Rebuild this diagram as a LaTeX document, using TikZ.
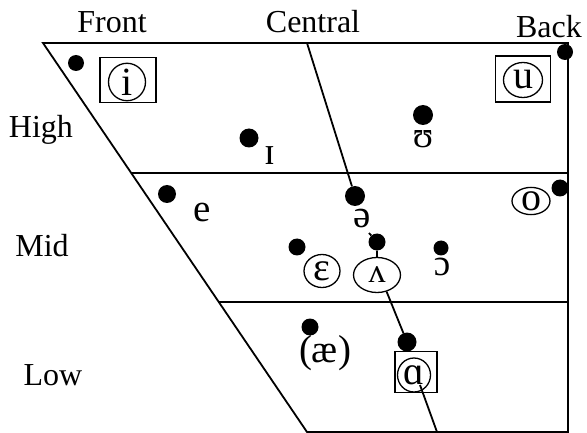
\documentclass[tikz,border=0pt]{standalone}
\usepackage{fontspec}
\setmainfont{Liberation Serif}
\usetikzlibrary{shapes.geometric}
\begin{document}
\begin{tikzpicture}[x=1pt,y=-1pt,
  frame/.style={line width=1.8pt},
  vdot/.style={circle,fill=black,inner sep=0pt,minimum size=#1},
  lab/.style={font=\fontsize{32}{38}\selectfont,anchor=base,inner sep=0pt},
  sym/.style={font=\fontsize{39}{46}\selectfont,anchor=base,inner sep=0pt},
  ring/.style={ellipse,draw,line width=1.3pt,inner sep=0pt,font=\fontsize{40}{46}\selectfont},
  sqbox/.style={rectangle,draw,line width=1.5pt,inner sep=0pt}]
\useasboundingbox (0,0) rectangle (587,433);
% frame
\coordinate (tl) at (43,43);
\coordinate (tr) at (568,43);
\coordinate (br) at (568,432);
\coordinate (bl) at (307,432);
\coordinate (hl) at (131,173);
\coordinate (hr) at (568,173);
\coordinate (ll) at (219,302);
\coordinate (lr) at (568,302);
\draw[frame] (tl)--(tr)--(br)--(bl)--cycle;
\draw[frame] (hl)--(hr);
\draw[frame] (ll)--(lr);
% axis labels
\node[lab] (front) at (112,33) {Front};
\node[lab] (central) at (313,33) {Central};
\node[lab] (back) at (549,38) {Back};
\node[lab] (high) at (41,138) {High};
\node[lab] (mid) at (42,257) {Mid};
\node[lab] (low) at (53,385) {Low};
% dots
\node[vdot=16] (d1) at (76,63) {};
\node[vdot=19] (dI) at (249,138) {};
\node[vdot=20] (dU) at (423,115) {};
\node[vdot=16] (dback) at (565,52) {};
\node[vdot=18] (de) at (167,194) {};
\node[vdot=17] (deps) at (297,247) {};
\node[vdot=20] (dschwa) at (355,196) {};
\node[vdot=17] (dwedge) at (377,242) {};
\node[vdot=15] (dopen) at (441,248) {};
\node[vdot=17] (do) at (560,188) {};
\node[vdot=17] (dae) at (310,327) {};
\node[vdot=19] (dalpha) at (407,342) {};
% boxes
\node[sqbox,minimum width=56,minimum height=45] (ibox) at (128,80) {};
\node[sqbox,minimum width=55,minimum height=46] (ubox) at (523,79) {};
\node[sqbox,minimum width=42,minimum height=41] (abox) at (416,372) {};
% ringed symbols
\node[ring,minimum width=37,minimum height=35] (i) at (127,82) {i};
\node[ring,minimum width=39,minimum height=35] (u) at (523,80) {u};
\node[ring,minimum width=36,minimum height=33] (eps) at (322,271) {ɛ};
\node[ring,minimum width=38,minimum height=27] (o) at (531,201) {o};
\node[ring,minimum width=47,minimum height=35,font=\fontsize{34}{40}\selectfont] (wedge) at (377,275) {ʌ};
\node[ring,minimum width=33,minimum height=34] (alpha) at (414,375) {ɑ};
% plain symbols
\node[sym] (I) at (270,165) {ɪ};
\node[sym,font=\fontsize{37}{44}\selectfont] (U) at (423,148) {ʊ};
\node[sym] (e) at (202,222) {e};
\node[sym] (schwa) at (362,228) {ə};
\node[sym,font=\fontsize{37}{44}\selectfont] (open) at (442,276) {ɔ};
\node[sym] (ae) at (325,362) {(æ)};
% central line
\coordinate (ctop) at (307,43);
\coordinate (c1) at (369,233);
\coordinate (c2) at (420,385);
\coordinate (cbot) at (437,432);
\draw[frame] (ctop) -- (dschwa);
\draw[frame] (c1) -- (dwedge) -- (wedge);
\draw[frame] (wedge.-60) -- (dalpha);
\draw[frame] (c2) -- (cbot);
\end{tikzpicture}
\end{document}
